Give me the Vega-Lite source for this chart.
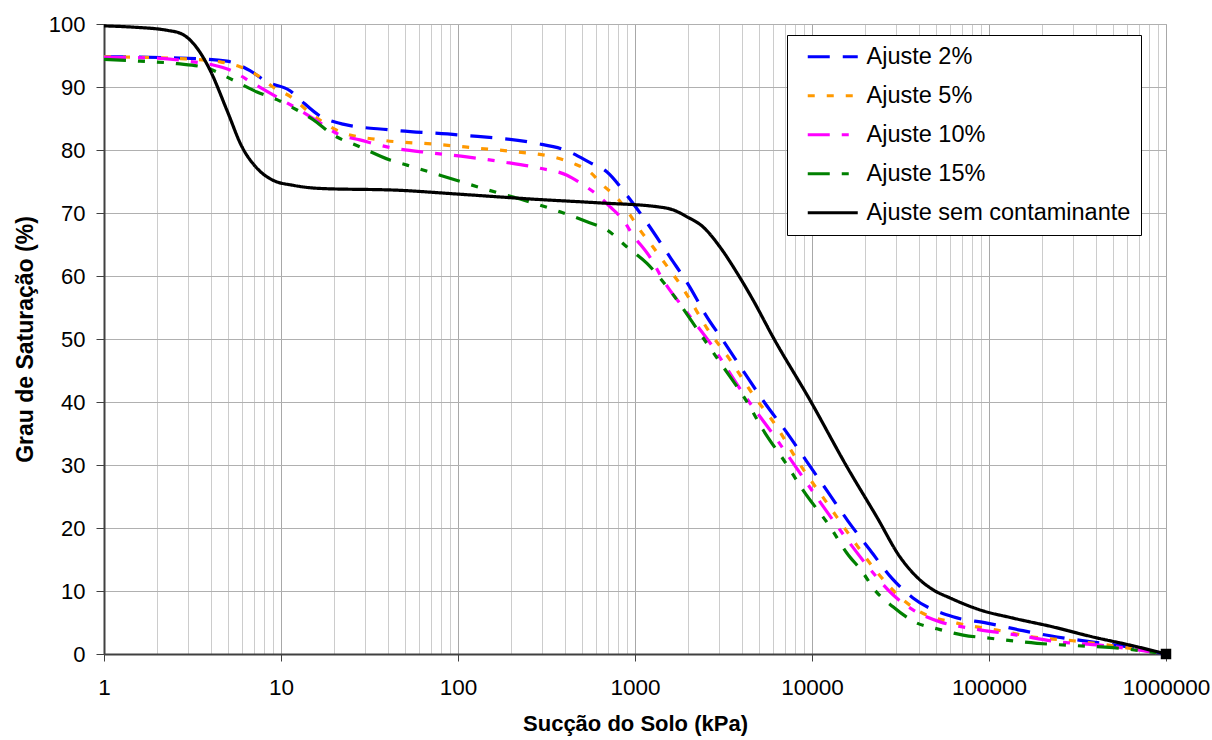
{
  "$schema": "https://vega.github.io/schema/vega-lite/v6.json",
  "width": 1062,
  "height": 630,
  "autosize": {"type": "none"},
  "padding": {"left": 104, "top": 24, "right": 46, "bottom": 86},
  "background": "white",
  "config": {
    "font": "Liberation Sans",
    "view": {"stroke": "#b0b0b0", "strokeWidth": 1},
    "axis": {"labelFont": "Liberation Sans", "titleFont": "Liberation Sans", "labelColor": "black", "titleColor": "black"}
  },
  "datasets": {
    "curves": [
      {"s": "Ajuste 2%", "x": 1, "y": 94.8}, {"s": "Ajuste 2%", "x": 2.69, "y": 94.6}, {"s": "Ajuste 2%", "x": 4.95, "y": 94.1}, {"s": "Ajuste 2%", "x": 6.68, "y": 92.6}, {"s": "Ajuste 2%", "x": 8.34, "y": 90.8}, {"s": "Ajuste 2%", "x": 11.24, "y": 89.4}, {"s": "Ajuste 2%", "x": 12.8, "y": 88.0}, {"s": "Ajuste 2%", "x": 16.6, "y": 85.4}, {"s": "Ajuste 2%", "x": 22.4, "y": 84.1}, {"s": "Ajuste 2%", "x": 41.3, "y": 83.2}, {"s": "Ajuste 2%", "x": 100, "y": 82.4}, {"s": "Ajuste 2%", "x": 272, "y": 81.1}, {"s": "Ajuste 2%", "x": 402, "y": 80.0}, {"s": "Ajuste 2%", "x": 557, "y": 78.0}, {"s": "Ajuste 2%", "x": 695, "y": 76.5}, {"s": "Ajuste 2%", "x": 878, "y": 73.2}, {"s": "Ajuste 2%", "x": 1139, "y": 68.9}, {"s": "Ajuste 2%", "x": 1577, "y": 63.0}, {"s": "Ajuste 2%", "x": 2045, "y": 58.2}, {"s": "Ajuste 2%", "x": 2486, "y": 54.0}, {"s": "Ajuste 2%", "x": 3224, "y": 49.3}, {"s": "Ajuste 2%", "x": 4183, "y": 44.5}, {"s": "Ajuste 2%", "x": 5427, "y": 39.8}, {"s": "Ajuste 2%", "x": 7226, "y": 35.1}, {"s": "Ajuste 2%", "x": 9371, "y": 30.5}, {"s": "Ajuste 2%", "x": 12310, "y": 25.7}, {"s": "Ajuste 2%", "x": 15970, "y": 21.1}, {"s": "Ajuste 2%", "x": 21270, "y": 16.5}, {"s": "Ajuste 2%", "x": 28310, "y": 12.0}, {"s": "Ajuste 2%", "x": 37200, "y": 8.9}, {"s": "Ajuste 2%", "x": 62600, "y": 5.9}, {"s": "Ajuste 2%", "x": 97430, "y": 4.9}, {"s": "Ajuste 2%", "x": 155600, "y": 3.7}, {"s": "Ajuste 2%", "x": 242200, "y": 2.7}, {"s": "Ajuste 2%", "x": 386900, "y": 1.9}, {"s": "Ajuste 2%", "x": 651000, "y": 1.0}, {"s": "Ajuste 2%", "x": 1000000, "y": 0},

      {"s": "Ajuste 5%", "x": 1, "y": 94.8}, {"s": "Ajuste 5%", "x": 2.69, "y": 94.5}, {"s": "Ajuste 5%", "x": 4.52, "y": 94.0}, {"s": "Ajuste 5%", "x": 5.86, "y": 93.2}, {"s": "Ajuste 5%", "x": 7.32, "y": 91.9}, {"s": "Ajuste 5%", "x": 9.01, "y": 90.0}, {"s": "Ajuste 5%", "x": 11.69, "y": 88.2}, {"s": "Ajuste 5%", "x": 14.0, "y": 86.3}, {"s": "Ajuste 5%", "x": 17.3, "y": 84.4}, {"s": "Ajuste 5%", "x": 21.5, "y": 82.9}, {"s": "Ajuste 5%", "x": 36.3, "y": 81.6}, {"s": "Ajuste 5%", "x": 76.1, "y": 80.9}, {"s": "Ajuste 5%", "x": 128, "y": 80.3}, {"s": "Ajuste 5%", "x": 215, "y": 79.7}, {"s": "Ajuste 5%", "x": 344, "y": 78.9}, {"s": "Ajuste 5%", "x": 446, "y": 77.9}, {"s": "Ajuste 5%", "x": 557, "y": 76.5}, {"s": "Ajuste 5%", "x": 659, "y": 74.4}, {"s": "Ajuste 5%", "x": 791, "y": 72.4}, {"s": "Ajuste 5%", "x": 937, "y": 69.7}, {"s": "Ajuste 5%", "x": 1067, "y": 67.3}, {"s": "Ajuste 5%", "x": 1264, "y": 64.6}, {"s": "Ajuste 5%", "x": 1477, "y": 62.0}, {"s": "Ajuste 5%", "x": 1727, "y": 59.4}, {"s": "Ajuste 5%", "x": 1967, "y": 57.0}, {"s": "Ajuste 5%", "x": 2552, "y": 51.7}, {"s": "Ajuste 5%", "x": 3442, "y": 46.7}, {"s": "Ajuste 5%", "x": 4581, "y": 41.4}, {"s": "Ajuste 5%", "x": 6343, "y": 36.0}, {"s": "Ajuste 5%", "x": 8229, "y": 30.8}, {"s": "Ajuste 5%", "x": 12640, "y": 23.3}, {"s": "Ajuste 5%", "x": 17040, "y": 18.1}, {"s": "Ajuste 5%", "x": 23290, "y": 13.0}, {"s": "Ajuste 5%", "x": 32670, "y": 8.6}, {"s": "Ajuste 5%", "x": 40760, "y": 6.7}, {"s": "Ajuste 5%", "x": 65960, "y": 4.9}, {"s": "Ajuste 5%", "x": 111000, "y": 3.8}, {"s": "Ajuste 5%", "x": 177300, "y": 2.7}, {"s": "Ajuste 5%", "x": 298300, "y": 2.1}, {"s": "Ajuste 5%", "x": 502000, "y": 1.3}, {"s": "Ajuste 5%", "x": 1000000, "y": 0},

      {"s": "Ajuste 10%", "x": 1, "y": 94.7}, {"s": "Ajuste 10%", "x": 1.89, "y": 94.6}, {"s": "Ajuste 10%", "x": 3.18, "y": 94.0}, {"s": "Ajuste 10%", "x": 4.13, "y": 93.5}, {"s": "Ajuste 10%", "x": 5.15, "y": 92.7}, {"s": "Ajuste 10%", "x": 6.95, "y": 90.6}, {"s": "Ajuste 10%", "x": 9.49, "y": 88.4}, {"s": "Ajuste 10%", "x": 12.8, "y": 86.3}, {"s": "Ajuste 10%", "x": 16.6, "y": 84.3}, {"s": "Ajuste 10%", "x": 21.5, "y": 82.4}, {"s": "Ajuste 10%", "x": 27.9, "y": 81.6}, {"s": "Ajuste 10%", "x": 39.7, "y": 80.5}, {"s": "Ajuste 10%", "x": 72.3, "y": 79.5}, {"s": "Ajuste 10%", "x": 112, "y": 78.9}, {"s": "Ajuste 10%", "x": 180, "y": 78.1}, {"s": "Ajuste 10%", "x": 291, "y": 77.1}, {"s": "Ajuste 10%", "x": 413, "y": 76.0}, {"s": "Ajuste 10%", "x": 489, "y": 74.8}, {"s": "Ajuste 10%", "x": 610, "y": 72.9}, {"s": "Ajuste 10%", "x": 722, "y": 71.0}, {"s": "Ajuste 10%", "x": 855, "y": 68.9}, {"s": "Ajuste 10%", "x": 974, "y": 66.5}, {"s": "Ajuste 10%", "x": 1215, "y": 63.0}, {"s": "Ajuste 10%", "x": 1439, "y": 59.4}, {"s": "Ajuste 10%", "x": 1967, "y": 54.2}, {"s": "Ajuste 10%", "x": 2653, "y": 49.4}, {"s": "Ajuste 10%", "x": 4076, "y": 41.4}, {"s": "Ajuste 10%", "x": 6343, "y": 34.0}, {"s": "Ajuste 10%", "x": 9371, "y": 27.1}, {"s": "Ajuste 10%", "x": 14390, "y": 19.7}, {"s": "Ajuste 10%", "x": 22120, "y": 12.9}, {"s": "Ajuste 10%", "x": 28680, "y": 9.4}, {"s": "Ajuste 10%", "x": 37200, "y": 7.0}, {"s": "Ajuste 10%", "x": 52880, "y": 5.1}, {"s": "Ajuste 10%", "x": 78130, "y": 4.1}, {"s": "Ajuste 10%", "x": 143900, "y": 3.0}, {"s": "Ajuste 10%", "x": 251800, "y": 1.9}, {"s": "Ajuste 10%", "x": 423700, "y": 1.4}, {"s": "Ajuste 10%", "x": 1000000, "y": 0},

      {"s": "Ajuste 15%", "x": 1, "y": 94.4}, {"s": "Ajuste 15%", "x": 1.6, "y": 94.1}, {"s": "Ajuste 15%", "x": 2.59, "y": 93.7}, {"s": "Ajuste 15%", "x": 3.82, "y": 93.0}, {"s": "Ajuste 15%", "x": 5.36, "y": 91.1}, {"s": "Ajuste 15%", "x": 7.32, "y": 89.2}, {"s": "Ajuste 15%", "x": 9.49, "y": 88.0}, {"s": "Ajuste 15%", "x": 11.69, "y": 86.7}, {"s": "Ajuste 15%", "x": 15.2, "y": 84.8}, {"s": "Ajuste 15%", "x": 19.7, "y": 82.4}, {"s": "Ajuste 15%", "x": 27.9, "y": 80.5}, {"s": "Ajuste 15%", "x": 41.3, "y": 78.4}, {"s": "Ajuste 15%", "x": 51.5, "y": 77.6}, {"s": "Ajuste 15%", "x": 79.1, "y": 76.0}, {"s": "Ajuste 15%", "x": 146, "y": 73.7}, {"s": "Ajuste 15%", "x": 265, "y": 71.6}, {"s": "Ajuste 15%", "x": 377, "y": 70.2}, {"s": "Ajuste 15%", "x": 536, "y": 68.6}, {"s": "Ajuste 15%", "x": 695, "y": 67.3}, {"s": "Ajuste 15%", "x": 901, "y": 64.6}, {"s": "Ajuste 15%", "x": 1169, "y": 62.0}, {"s": "Ajuste 15%", "x": 1516, "y": 58.3}, {"s": "Ajuste 15%", "x": 2422, "y": 50.2}, {"s": "Ajuste 15%", "x": 3021, "y": 46.3}, {"s": "Ajuste 15%", "x": 4295, "y": 40.0}, {"s": "Ajuste 15%", "x": 5287, "y": 35.6}, {"s": "Ajuste 15%", "x": 7226, "y": 30.0}, {"s": "Ajuste 15%", "x": 8897, "y": 26.0}, {"s": "Ajuste 15%", "x": 12640, "y": 20.2}, {"s": "Ajuste 15%", "x": 15765, "y": 16.0}, {"s": "Ajuste 15%", "x": 19420, "y": 12.9}, {"s": "Ajuste 15%", "x": 22120, "y": 10.5}, {"s": "Ajuste 15%", "x": 28680, "y": 7.5}, {"s": "Ajuste 15%", "x": 39195, "y": 4.9}, {"s": "Ajuste 15%", "x": 50830, "y": 4.0}, {"s": "Ajuste 15%", "x": 71320, "y": 3.0}, {"s": "Ajuste 15%", "x": 101300, "y": 2.5}, {"s": "Ajuste 15%", "x": 186700, "y": 1.7}, {"s": "Ajuste 15%", "x": 275900, "y": 1.4}, {"s": "Ajuste 15%", "x": 502000, "y": 1.0}, {"s": "Ajuste 15%", "x": 1000000, "y": 0},

      {"s": "Ajuste sem contaminante", "x": 1, "y": 99.7}, {"s": "Ajuste sem contaminante", "x": 1.458, "y": 99.5}, {"s": "Ajuste sem contaminante", "x": 2.27, "y": 99.0}, {"s": "Ajuste sem contaminante", "x": 2.76, "y": 98.4}, {"s": "Ajuste sem contaminante", "x": 3.35, "y": 96.2}, {"s": "Ajuste sem contaminante", "x": 3.97, "y": 92.7}, {"s": "Ajuste sem contaminante", "x": 4.95, "y": 86.3}, {"s": "Ajuste sem contaminante", "x": 6.02, "y": 80.5}, {"s": "Ajuste sem contaminante", "x": 7.32, "y": 77.1}, {"s": "Ajuste sem contaminante", "x": 9.01, "y": 75.2}, {"s": "Ajuste sem contaminante", "x": 11.69, "y": 74.4}, {"s": "Ajuste sem contaminante", "x": 16.6, "y": 73.9}, {"s": "Ajuste sem contaminante", "x": 47, "y": 73.6}, {"s": "Ajuste sem contaminante", "x": 100, "y": 73.0}, {"s": "Ajuste sem contaminante", "x": 265, "y": 72.2}, {"s": "Ajuste sem contaminante", "x": 634, "y": 71.6}, {"s": "Ajuste sem contaminante", "x": 1331, "y": 71.0}, {"s": "Ajuste sem contaminante", "x": 1639, "y": 70.5}, {"s": "Ajuste sem contaminante", "x": 1967, "y": 69.4}, {"s": "Ajuste sem contaminante", "x": 2422, "y": 67.8}, {"s": "Ajuste sem contaminante", "x": 3021, "y": 64.6}, {"s": "Ajuste sem contaminante", "x": 3769, "y": 60.5}, {"s": "Ajuste sem contaminante", "x": 4642, "y": 56.2}, {"s": "Ajuste sem contaminante", "x": 6022, "y": 50.3}, {"s": "Ajuste sem contaminante", "x": 9743, "y": 40.3}, {"s": "Ajuste sem contaminante", "x": 15765, "y": 29.7}, {"s": "Ajuste sem contaminante", "x": 23290, "y": 21.7}, {"s": "Ajuste sem contaminante", "x": 31421, "y": 15.4}, {"s": "Ajuste sem contaminante", "x": 39195, "y": 12.2}, {"s": "Ajuste sem contaminante", "x": 48270, "y": 10.2}, {"s": "Ajuste sem contaminante", "x": 60220, "y": 8.9}, {"s": "Ajuste sem contaminante", "x": 88970, "y": 7.0}, {"s": "Ajuste sem contaminante", "x": 136600, "y": 5.7}, {"s": "Ajuste sem contaminante", "x": 229900, "y": 4.3}, {"s": "Ajuste sem contaminante", "x": 386900, "y": 2.7}, {"s": "Ajuste sem contaminante", "x": 651000, "y": 1.3}, {"s": "Ajuste sem contaminante", "x": 1000000, "y": 0}
    ],
    "endpoint": [{"x": 1000000, "y": 0}]
  },
  "layer": [
    {
      "data": {"name": "curves"},
      "mark": {"type": "line", "strokeWidth": 3.2, "interpolate": "monotone", "strokeCap": "butt", "clip": false},
      "encoding": {
        "x": {
          "field": "x", "type": "quantitative",
          "scale": {"type": "log", "domain": [1, 1000000], "nice": false},
          "axis": {
            "title": "Sucção do Solo (kPa)",
            "values": [1,2,3,4,5,6,7,8,9,10,20,30,40,50,60,70,80,90,100,200,300,400,500,600,700,800,900,1000,2000,3000,4000,5000,6000,7000,8000,9000,10000,20000,30000,40000,50000,60000,70000,80000,90000,100000,200000,300000,400000,500000,600000,700000,800000,900000,1000000],
            "labelExpr": "indexof([1,10,100,1000,10000,100000,1000000], datum.value) >= 0 ? '' + datum.value : ''",
            "labelFontSize": 22.5,
            "labelPadding": 15,
            "labelFlush": false,
            "labelOverlap": false,
            "tickSize": 7,
            "tickColor": "#404040",
            "tickOpacity": {"condition": {"test": "indexof([1,10,100,1000,10000,100000,1000000], datum.value) >= 0", "value": 1}, "value": 0},
            "grid": true,
            "gridColor": {"condition": {"test": "indexof([1,10,100,1000,10000,100000,1000000], datum.value) >= 0", "value": "#a8a8a8"}, "value": "#cccccc"},
            "gridWidth": 1,
            "domainColor": "#404040",
            "domainWidth": 2,
            "titleFontSize": 22,
            "titleFontWeight": "bold",
            "titlePadding": 15
          }
        },
        "y": {
          "field": "y", "type": "quantitative",
          "scale": {"domain": [0, 100], "nice": false},
          "axis": {
            "title": "Grau de Saturação (%)",
            "values": [0,10,20,30,40,50,60,70,80,90,100],
            "labelFontSize": 22,
            "labelPadding": 11,
            "tickSize": 8,
            "tickColor": "#404040",
            "grid": true,
            "gridColor": "#b0b0b0",
            "gridWidth": 1,
            "domainColor": "#404040",
            "domainWidth": 2,
            "titleFontSize": 23,
            "titleFontWeight": "bold",
            "titlePadding": 11
          }
        },
        "color": {
          "field": "s", "type": "nominal",
          "scale": {
            "domain": ["Ajuste 2%", "Ajuste 5%", "Ajuste 10%", "Ajuste 15%", "Ajuste sem contaminante"],
            "range": ["#0000ff", "#ff9900", "#ff00ff", "#008000", "#000000"]
          },
          "legend": {
            "title": null,
            "orient": "none",
            "legendX": 683,
            "legendY": 11,
            "fillColor": "white",
            "strokeColor": "#000000",
            "padding": 10,
            "labelFont": "Liberation Sans",
            "labelFontSize": 23.5,
            "labelColor": "black",
            "labelLimit": 400,
            "symbolType": "M-1,0H4",
            "symbolSize": 400,
            "symbolStrokeWidth": 3,
            "symbolOffset": 9,
            "labelOffset": 37,
            "rowPadding": 14
          }
        },
        "strokeDash": {
          "field": "s", "type": "nominal",
          "scale": {
            "domain": ["Ajuste 2%", "Ajuste 5%", "Ajuste 10%", "Ajuste 15%", "Ajuste sem contaminante"],
            "range": [[22, 13], [7, 12], [22, 12, 7, 12], [22, 12, 7, 12, 7, 12], [1, 0]]
          },
          "legend": {
            "title": null,
            "orient": "none",
            "legendX": 683,
            "legendY": 11,
            "fillColor": "white",
            "strokeColor": "#000000",
            "padding": 10,
            "labelFont": "Liberation Sans",
            "labelFontSize": 23.5,
            "labelColor": "black",
            "labelLimit": 400,
            "symbolType": "M-1,0H4",
            "symbolSize": 400,
            "symbolStrokeWidth": 3,
            "symbolOffset": 9,
            "labelOffset": 37,
            "rowPadding": 14
          }
        }
      }
    },
    {
      "data": {"name": "endpoint"},
      "mark": {"type": "point", "shape": "square", "filled": true, "color": "black", "opacity": 1, "size": 110, "clip": false},
      "encoding": {
        "x": {"field": "x", "type": "quantitative"},
        "y": {"field": "y", "type": "quantitative"}
      }
    }
  ]
}
